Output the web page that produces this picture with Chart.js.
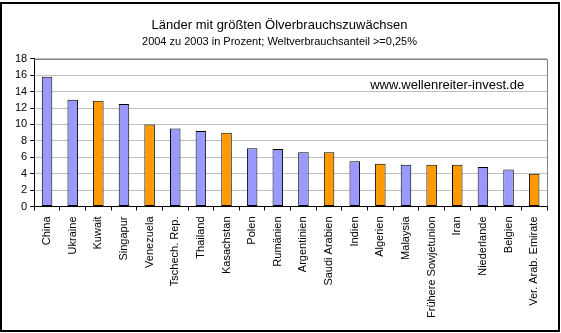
<!DOCTYPE html>
<html>
<head>
<meta charset="utf-8">
<script src="https://cdn.jsdelivr.net/npm/chart.js@4"></script>
<style>
    body { margin: 0; background: #fff; }
    #wrap { position: absolute; left: 0; top: 0; width: 561px; height: 333px; }
</style>
</head>
<body>
<div id="wrap"><canvas id="oilChart"></canvas></div>
<script>
// data
const countries = ["China", "Ukraine", "Kuwait", "Singapur", "Venezuela", "Tschech. Rep.", "Thailand",
    "Kasachstan", "Polen", "Rumänien", "Argentinien", "Saudi Arabien", "Indien", "Algerien",
    "Malaysia", "Frühere Sowjetunion", "Iran", "Niederlande", "Belgien", "Ver. Arab. Emirate"];
const growth = [15.8, 13.0, 12.9, 12.5, 10.0, 9.5, 9.2, 9.0, 7.1, 7.0, 6.6, 6.6, 5.5, 5.2,
    5.1, 5.1, 5.1, 4.8, 4.5, 4.0];
// oil producers are drawn orange
const producer = [false, false, true, false, true, false, false, true, false, false, false, true,
    false, true, false, true, true, false, false, true];
const yTicks = [0, 2, 4, 6, 8, 10, 12, 14, 16, 18];

const FONT = "'Liberation Sans', Arial, sans-serif";

// frame round the picture, plot border and the web address
const framePlugin = {
    id: "frame",
    afterDraw(chart) {
        const c = chart.ctx;
        const a = chart.chartArea;
        c.save();
        c.strokeStyle = "#808080";
        c.lineWidth = 1;
        c.beginPath();
        c.moveTo(a.left, Math.round(a.top) + 0.5);
        c.lineTo(Math.round(a.right) + 0.5, Math.round(a.top) + 0.5);
        c.lineTo(Math.round(a.right) + 0.5, a.bottom);
        c.stroke();

        c.strokeStyle = "#000";
        c.lineWidth = 2;
        c.strokeRect(1, 3, 558, 328);

        c.fillStyle = "#000";
        c.font = "13px " + FONT;
        c.textAlign = "left";
        c.textBaseline = "middle";
        c.fillText("www.wellenreiter-invest.de", a.left + 336, chart.scales.y.getPixelForValue(14.8));
        c.restore();
    },
};

new Chart(document.getElementById("oilChart"), {
    type: "bar",
    data: {
        labels: countries,
        datasets: [
            {
                data: growth,
                backgroundColor: producer.map((p) => (p ? "#FF9900" : "#9999FF")),
                borderColor: "#000",
                borderWidth: 1,
                borderSkipped: false,
                barPercentage: 0.41,
                categoryPercentage: 1,
            },
        ],
    },
    options: {
        responsive: true,
        maintainAspectRatio: false,
        animation: false,
        layout: {
            padding: { top: 10, left: 12, right: 14, bottom: 9 },
        },
        plugins: {
            legend: { display: false },
            tooltip: { enabled: false },
            title: {
                display: true,
                text: "Länder mit größten Ölverbrauchszuwächsen",
                color: "#000",
                font: { family: FONT, size: 13, weight: "normal" },
                padding: { top: 8, bottom: 2 },
            },
            subtitle: {
                display: true,
                text: "2004 zu 2003 in Prozent; Weltverbrauchsanteil >=0,25%",
                color: "#000",
                font: { family: FONT, size: 11 },
                padding: { top: 0, bottom: 10 },
            },
        },
        scales: {
            x: {
                grid: {
                    offset: true,
                    drawOnChartArea: false,
                    tickLength: 4,
                    color: "#000",
                },
                border: { color: "#000" },
                ticks: {
                    color: "#000",
                    font: { family: FONT, size: 11 },
                    minRotation: 90,
                    maxRotation: 90,
                    autoSkip: false,
                    padding: 6,
                },
            },
            y: {
                min: 0,
                max: 18,
                afterBuildTicks: (axis) => {
                    axis.ticks = yTicks.map((v) => ({ value: v }));
                },
                grid: {
                    color: "#C0C0C0",
                    tickColor: "#000",
                    tickLength: 4,
                },
                border: { color: "#000" },
                ticks: {
                    color: "#000",
                    font: { family: FONT, size: 11 },
                    padding: 3,
                    autoSkip: false,
                },
            },
        },
    },
    plugins: [framePlugin],
});
</script>
</body>
</html>
